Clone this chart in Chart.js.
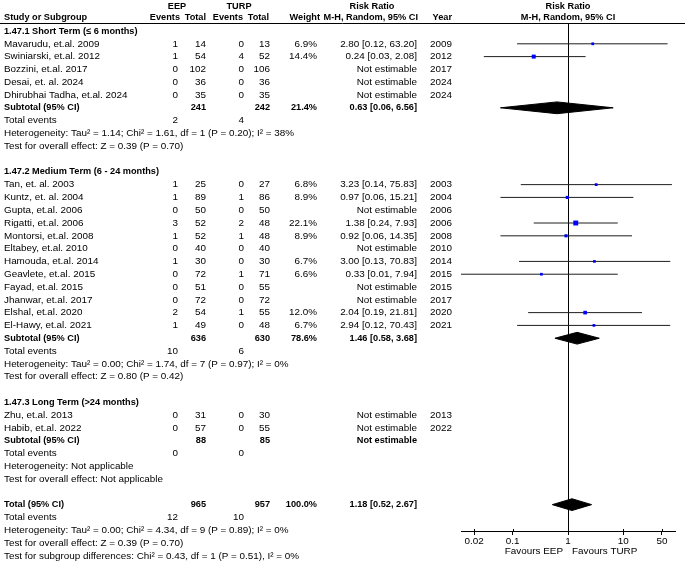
<!DOCTYPE html>
<html>
<head>
<meta charset="utf-8">
<title>EEP vs TURP - Risk Ratio</title>
<script src="https://cdn.jsdelivr.net/npm/chart.js@4.4.1/dist/chart.umd.min.js"></script>
<style>
  html, body { margin: 0; padding: 0; background: #fff; }
  #forest { display: block; }
</style>
</head>
<body>
<canvas id="forest" width="685" height="565"></canvas>
<script>
// ---- data ----
const groupTitles = [
    "1.47.1 Short Term (\u2264 6 months)",
    "1.47.2 Medium Term (6 - 24 months)",
    "1.47.3 Long Term (>24 months)",
];

const studyNames = [
    "Mavarudu, et.al. 2009", "Swiniarski, et.al. 2012", "Bozzini, et.al. 2017",
    "Desai, et. al. 2024", "Dhirubhai Tadha, et.al. 2024",
    "Tan, et. al. 2003", "Kuntz, et. al. 2004", "Gupta, et.al. 2006",
    "Rigatti, et.al. 2006", "Montorsi, et.al. 2008", "Eltabey, et.al. 2010",
    "Hamouda, et.al. 2014", "Geavlete, et.al. 2015", "Fayad, et.al. 2015",
    "Jhanwar, et.al. 2017", "Elshal, et.al. 2020", "El-Hawy, et.al. 2021",
    "Zhu, et.al. 2013", "Habib, et.al. 2022",
];
const studyGroup = [0, 0, 0, 0, 0, 1, 1, 1, 1, 1, 1, 1, 1, 1, 1, 1, 1, 2, 2];
const eepEvents  = [1, 1, 0, 0, 0, 1, 1, 0, 3, 1, 0, 1, 0, 0, 0, 2, 1, 0, 0];
const eepTotal   = [14, 54, 102, 36, 35, 25, 89, 50, 52, 52, 40, 30, 72, 51, 72, 54, 49, 31, 57];
const turpEvents = [0, 4, 0, 0, 0, 0, 1, 0, 2, 1, 0, 0, 1, 0, 0, 1, 0, 0, 0];
const turpTotal  = [13, 52, 106, 36, 35, 27, 86, 50, 48, 48, 40, 30, 71, 55, 72, 55, 48, 30, 55];
const weights    = [6.9, 14.4, null, null, null, 6.8, 8.9, null, 22.1, 8.9, null, 6.7, 6.6, null, null, 12.0, 6.7, null, null];
const rrEst  = [2.80, 0.24, null, null, null, 3.23, 0.97, null, 1.38, 0.92, null, 3.00, 0.33, null, null, 2.04, 2.94, null, null];
const rrLow  = [0.12, 0.03, null, null, null, 0.14, 0.06, null, 0.24, 0.06, null, 0.13, 0.01, null, null, 0.19, 0.12, null, null];
const rrHigh = [63.20, 2.08, null, null, null, 75.83, 15.21, null, 7.93, 14.35, null, 70.83, 7.94, null, null, 21.81, 70.43, null, null];
const years  = [2009, 2012, 2017, 2024, 2024, 2003, 2004, 2006, 2006, 2008, 2010, 2014, 2015, 2015, 2017, 2020, 2021, 2013, 2022];

const groupEepTotal   = [241, 636, 88];
const groupTurpTotal  = [242, 630, 85];
const groupEepEvents  = [2, 10, 0];
const groupTurpEvents = [4, 6, 0];
const groupWeight = [21.4, 78.6, null];
const groupEst  = [0.63, 1.46, null];
const groupLow  = [0.06, 0.58, null];
const groupHigh = [6.56, 3.68, null];
const groupHet = [
    "Heterogeneity: Tau\u00b2 = 1.14; Chi\u00b2 = 1.61, df = 1 (P = 0.20); I\u00b2 = 38%",
    "Heterogeneity: Tau\u00b2 = 0.00; Chi\u00b2 = 1.74, df = 7 (P = 0.97); I\u00b2 = 0%",
    "Heterogeneity: Not applicable",
];
const groupTest = [
    "Test for overall effect: Z = 0.39 (P = 0.70)",
    "Test for overall effect: Z = 0.80 (P = 0.42)",
    "Test for overall effect: Not applicable",
];

const totalEep = 965, totalTurp = 957, totalWeight = 100.0;
const totalEepEvents = 12, totalTurpEvents = 10;
const totalEst = 1.18, totalLow = 0.52, totalHigh = 2.67;
const totalHet = "Heterogeneity: Tau\u00b2 = 0.00; Chi\u00b2 = 4.34, df = 9 (P = 0.89); I\u00b2 = 0%";
const totalTest = "Test for overall effect: Z = 0.39 (P = 0.70)";
const subgroupTest = "Test for subgroup differences: Chi\u00b2 = 0.43, df = 1 (P = 0.51), I\u00b2 = 0%";

const xTicks = [0.02, 0.1, 1, 10, 50];

// ---- row layout ----
const studyRow = [], headRow = [], subRow = [];
let r = 0;
groupTitles.forEach(function (t, g) {
    headRow[g] = r++;
    studyNames.forEach(function (n, i) {
        if (studyGroup[i] === g) studyRow[i] = r++;
    });
    subRow[g] = r;
    r += 5; // subtotal, events, heterogeneity, test, blank
});
const totalRow = r;

const FONT = '"Liberation Sans", Arial, sans-serif';
const FONT_SIZE = 9.9;
const BOLD_SIZE = 9.2;
const DIAMOND_HALF = 0.46;

Chart.defaults.font.family = FONT;
Chart.defaults.font.size = FONT_SIZE;
Chart.defaults.color = "#000";

function diamond(est, lo, hi, row) {
    return [
        { x: lo, y: row },
        { x: est, y: row - DIAMOND_HALF },
        { x: hi, y: row },
        { x: est, y: row + DIAMOND_HALF },
        { x: lo, y: row },
    ];
}

const datasets = [];

// confidence interval lines
studyNames.forEach(function (n, i) {
    if (rrEst[i] === null) return;
    datasets.push({
        type: "line",
        data: [{ x: rrLow[i], y: studyRow[i] }, { x: rrHigh[i], y: studyRow[i] }],
        borderColor: "#1e1e1e",
        borderWidth: 1,
        pointRadius: 0,
        order: 3,
    });
});

// weighted squares
const squareIdx = studyNames.map((n, i) => i).filter((i) => rrEst[i] !== null);
datasets.push({
    type: "scatter",
    data: squareIdx.map((i) => ({ x: rrEst[i], y: studyRow[i] })),
    pointStyle: "rect",
    pointRadius: squareIdx.map((i) => Math.sqrt(weights[i]) / 1.35),
    backgroundColor: "#0000ff",
    borderWidth: 0,
    order: 1,
});

// pooled diamonds
groupTitles.forEach(function (t, g) {
    if (groupEst[g] === null) return;
    datasets.push({
        type: "line",
        data: diamond(groupEst[g], groupLow[g], groupHigh[g], subRow[g]),
        borderColor: "#000",
        backgroundColor: "#000",
        borderWidth: 1,
        pointRadius: 0,
        fill: "shape",
        order: 2,
    });
});
datasets.push({
    type: "line",
    data: diamond(totalEst, totalLow, totalHigh, totalRow),
    borderColor: "#000",
    backgroundColor: "#000",
    borderWidth: 1,
    pointRadius: 0,
    fill: "shape",
    order: 2,
});

// ---- table text, header rule and line of no effect ----
const COL = {
    name: 4, eepEv: 178, eepTot: 206, turpEv: 244, turpTot: 270,
    weight: 317, rr: 417, year: 452,
};

function fmtRR(e, l, h) {
    return e.toFixed(2) + " [" + l.toFixed(2) + ", " + h.toFixed(2) + "]";
}

const forestTable = {
    id: "forestTable",
    beforeDatasetsDraw(chart) {
        const { ctx, chartArea, scales } = chart;
        const x1 = Math.round(scales.x.getPixelForValue(1)) + 0.5;
        ctx.save();
        ctx.strokeStyle = "#000";
        ctx.lineWidth = 1;
        ctx.beginPath();
        ctx.moveTo(x1, chartArea.top);
        ctx.lineTo(x1, chartArea.bottom);
        ctx.moveTo(0, Math.round(chartArea.top) + 0.5);
        ctx.lineTo(chart.width, Math.round(chartArea.top) + 0.5);
        // small stubs of the axis ticks above the axis line
        xTicks.forEach(function (v) {
            const tx = Math.round(scales.x.getPixelForValue(v)) + 0.5;
            ctx.moveTo(tx, chartArea.bottom - 2);
            ctx.lineTo(tx, chartArea.bottom);
        });
        ctx.stroke();
        ctx.restore();
    },
    afterDraw(chart) {
        const { ctx, scales } = chart;
        const rowY = (i) => scales.y.getPixelForValue(i);
        const plotMid = scales.x.getPixelForValue(1);

        function text(s, x, y, align, bold) {
            ctx.font = bold ? "bold " + BOLD_SIZE + "px " + FONT : FONT_SIZE + "px " + FONT;
            ctx.textAlign = align || "left";
            ctx.fillText(String(s), x, y);
        }

        ctx.save();
        ctx.fillStyle = "#000";
        ctx.textBaseline = "middle";

        // column headers
        text("EEP", 177, 6, "center", true);
        text("TURP", 239, 6, "center", true);
        text("Risk Ratio", 372, 6, "center", true);
        text("Risk Ratio", plotMid, 6, "center", true);
        text("Study or Subgroup", COL.name, 17.5, "left", true);
        text("Events", 180, 17.5, "right", true);
        text("Total", 206, 17.5, "right", true);
        text("Events", 243, 17.5, "right", true);
        text("Total", 269, 17.5, "right", true);
        text("Weight", 320, 17.5, "right", true);
        text("M-H, Random, 95% CI", 418, 17.5, "right", true);
        text("Year", 452, 17.5, "right", true);
        text("M-H, Random, 95% CI", plotMid, 17.5, "center", true);

        groupTitles.forEach(function (t, g) {
            text(t, COL.name, rowY(headRow[g]), "left", true);
            const s = subRow[g];
            text("Subtotal (95% CI)", COL.name, rowY(s), "left", true);
            text(groupEepTotal[g], COL.eepTot, rowY(s), "right", true);
            text(groupTurpTotal[g], COL.turpTot, rowY(s), "right", true);
            if (groupWeight[g] !== null) {
                text(groupWeight[g].toFixed(1) + "%", COL.weight, rowY(s), "right", true);
                text(fmtRR(groupEst[g], groupLow[g], groupHigh[g]), COL.rr, rowY(s), "right", true);
            } else {
                text("Not estimable", COL.rr, rowY(s), "right", true);
            }
            text("Total events", COL.name, rowY(s + 1));
            text(groupEepEvents[g], COL.eepEv, rowY(s + 1), "right");
            text(groupTurpEvents[g], COL.turpEv, rowY(s + 1), "right");
            text(groupHet[g], COL.name, rowY(s + 2));
            text(groupTest[g], COL.name, rowY(s + 3));
        });

        studyNames.forEach(function (n, i) {
            const y = rowY(studyRow[i]);
            text(n, COL.name, y);
            text(eepEvents[i], COL.eepEv, y, "right");
            text(eepTotal[i], COL.eepTot, y, "right");
            text(turpEvents[i], COL.turpEv, y, "right");
            text(turpTotal[i], COL.turpTot, y, "right");
            if (rrEst[i] !== null) {
                text(weights[i].toFixed(1) + "%", COL.weight, y, "right");
                text(fmtRR(rrEst[i], rrLow[i], rrHigh[i]), COL.rr, y, "right");
            } else {
                text("Not estimable", COL.rr, y, "right");
            }
            text(years[i], COL.year, y, "right");
        });

        const t = totalRow;
        text("Total (95% CI)", COL.name, rowY(t), "left", true);
        text(totalEep, COL.eepTot, rowY(t), "right", true);
        text(totalTurp, COL.turpTot, rowY(t), "right", true);
        text(totalWeight.toFixed(1) + "%", COL.weight, rowY(t), "right", true);
        text(fmtRR(totalEst, totalLow, totalHigh), COL.rr, rowY(t), "right", true);
        text("Total events", COL.name, rowY(t + 1));
        text(totalEepEvents, COL.eepEv, rowY(t + 1), "right");
        text(totalTurpEvents, COL.turpEv, rowY(t + 1), "right");
        text(totalHet, COL.name, rowY(t + 2));
        text(totalTest, COL.name, rowY(t + 3));
        text(subgroupTest, COL.name, rowY(t + 4));

        // favours labels under the axis
        text("Favours EEP", plotMid - 5, 551, "right");
        text("Favours TURP", plotMid + 4, 551, "left");

        ctx.restore();
    },
};

new Chart(document.getElementById("forest"), {
    type: "scatter",
    data: { datasets: datasets },
    options: {
        responsive: false,
        animation: false,
        events: [],
        layout: { padding: { left: 461, right: 10, top: 23, bottom: 0 } },
        plugins: {
            legend: { display: false },
            tooltip: { enabled: false },
        },
        scales: {
            x: {
                type: "logarithmic",
                min: 0.0116,
                max: 86.1,
                afterBuildTicks: function (scale) {
                    scale.ticks = xTicks.map((v) => ({ value: v }));
                },
                afterFit: function (scale) {
                    scale.height = 34;
                },
                ticks: {
                    autoSkip: false,
                    maxRotation: 0,
                    padding: 0,
                    color: "#000",
                    font: { size: FONT_SIZE },
                    callback: (v) => String(v),
                },
                grid: {
                    drawOnChartArea: false,
                    drawTicks: true,
                    tickLength: 4,
                    color: "#000",
                },
                border: { display: true, color: "#000", width: 1 },
            },
            y: {
                type: "linear",
                display: false,
                reverse: true,
                min: -0.625,
                max: 39.06,
            },
        },
    },
    plugins: [forestTable],
});
</script>
</body>
</html>
